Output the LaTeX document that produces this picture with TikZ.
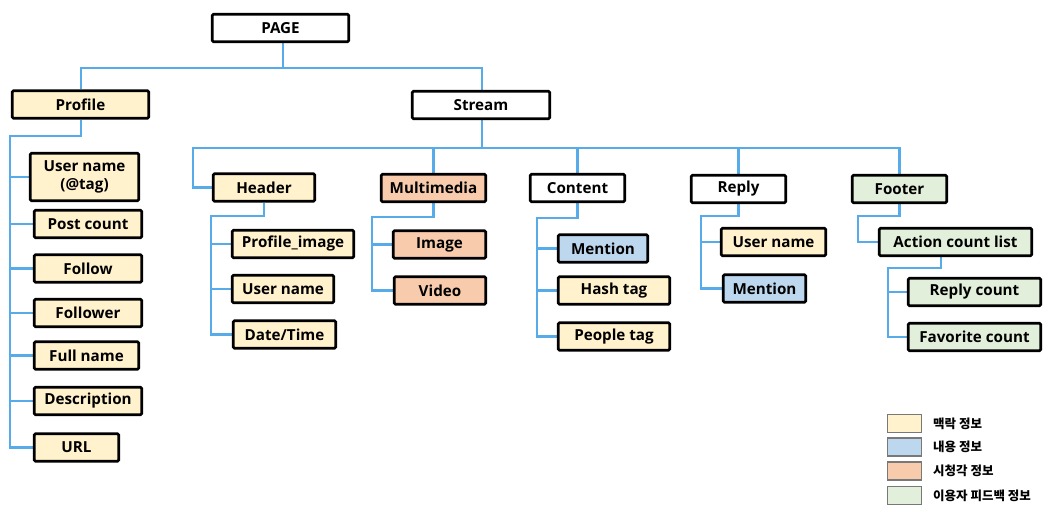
\documentclass[tikz,border=0pt]{standalone}
\usepackage{fontspec}
\usetikzlibrary{backgrounds}
\setmainfont{Open Sans}
\newfontfamily\krfont{Noto Sans CJK KR}
\definecolor{ctx}{HTML}{FFF2CC}
\definecolor{cnt}{HTML}{BDD7EE}
\definecolor{av}{HTML}{F8CBAD}
\definecolor{fb}{HTML}{E2EFDA}
\definecolor{link}{RGB}{86,171,232}
\definecolor{lgray}{RGB}{120,120,120}
\tikzset{
  box/.style={draw=black, line width=2.7pt, rounded corners=1.2pt, inner sep=0pt,
    font=\fontsize{15.2}{17.5}\selectfont\bfseries, align=center, minimum height=27.5pt},
  wbox/.style={box, fill=white},
  cbox/.style={box, fill=ctx},
  nbox/.style={box, fill=cnt},
  abox/.style={box, fill=av},
  fbox/.style={box, fill=fb},
  conn/.style={draw=link, line width=2.3pt},
  legbox/.style={draw=lgray, line width=1.2pt, minimum width=34pt, minimum height=18pt, inner sep=0pt},
  legtxt/.style={anchor=west, font=\krfont\fontsize{12.5}{14}\selectfont\bfseries, inner sep=0pt}
}
\begin{document}
\begin{tikzpicture}[x=1pt,y=-1pt]
\useasboundingbox (0,0) rectangle (1045,504);
% coordinates for connector corners
\coordinate (top) at (283,68);
\coordinate (pl) at (10,136);
\coordinate (sb) at (193,148);
\coordinate (hl) at (211,216);
\coordinate (ml) at (372,217);
\coordinate (cl) at (537,218);
\coordinate (rl) at (701,216);
\coordinate (fl) at (858,216);
\coordinate (al) at (888,268);

% nodes
\node[wbox, minimum width=136.5pt] (page) at (280.5,28) {PAGE};
\node[cbox, minimum width=136.5pt] (profile) at (80.5,104.5) {Profile};
\node[wbox, minimum width=137.5pt] (stream) at (481,105) {Stream};

\node[cbox, minimum width=108.5pt, minimum height=47.5pt] (uname) at (84.5,177) {User name\\(@tag)};
\node[cbox, minimum width=107.5pt] (post) at (88,224) {Post count};
\node[cbox, minimum width=107.5pt] (follow) at (88,268.5) {Follow};
\node[cbox, minimum width=107.5pt] (follower) at (88,313) {Follower};
\node[cbox, minimum width=104.5pt] (fullname) at (86.5,355.5) {Full name};
\node[cbox, minimum width=107.5pt] (desc) at (88,401) {Description};
\node[cbox, minimum width=84.5pt] (url) at (76.5,447.5) {URL};

\node[cbox, minimum width=101.5pt] (header) at (264,187.5) {Header};
\node[cbox, minimum width=121.5pt] (pimg) at (293,244) {Profile\_image};
\node[cbox, minimum width=101.5pt] (huser) at (283,289) {User name};
\node[cbox, minimum width=102.5pt] (date) at (284.5,334.5) {Date/Time};

\node[abox, minimum width=104.5pt] (mm) at (433.5,188) {Multimedia};
\node[abox, minimum width=92.5pt] (image) at (439.5,244.5) {Image};
\node[abox, minimum width=91.5pt] (video) at (440,290.5) {Video};

\node[wbox, minimum width=94.5pt] (content) at (577.5,188) {Content};
\node[nbox, minimum width=89.5pt] (cmention) at (603,248.5) {Mention};
\node[cbox, minimum width=111.5pt] (hash) at (614,290.5) {Hash tag};
\node[cbox, minimum width=111.5pt] (people) at (614,336.5) {People tag};

\node[wbox, minimum width=94.5pt] (reply) at (738.5,189) {Reply};
\node[cbox, minimum width=104.5pt] (ruser) at (773.5,242) {User name};
\node[nbox, minimum width=82.5pt] (rmention) at (764.5,288.5) {Mention};

\node[fbox, minimum width=94.5pt] (footer) at (899.5,189) {Footer};
\node[fbox, minimum width=152.5pt] (action) at (955.5,242) {Action count list};
\node[fbox, minimum width=132.5pt] (rcount) at (974.5,292) {Reply count};
\node[fbox, minimum width=132.5pt] (fav) at (974.5,337) {Favorite count};

% connectors
\begin{scope}[on background layer]
\draw[conn] (page.south -| top) -- (top);
\draw[conn] (profile.north -| 81,0) |- (top) -| (stream.north -| 482,0);
\draw[conn] (profile.south -| 81,0) |- (pl) -- (pl |- url.west) -- (url.west);
\foreach \c in {uname,post,follow,follower,fullname,desc}
  \draw[conn] (pl |- \c.west) -- (\c.west);

\draw[conn] (stream.south -| 482,0) -- (sb -| 482,0);
\draw[conn] (header.west) -| (sb) -- (sb -| footer.north) -- (footer.north);
\draw[conn] (mm.north) -- (mm.north |- sb);
\draw[conn] (content.north) -- (content.north |- sb);
\draw[conn] (reply.north) -- (reply.north |- sb);

\draw[conn] (header.south) |- (hl) -- (hl |- date.west) -- (date.west);
\draw[conn] (hl |- pimg.west) -- (pimg.west);
\draw[conn] (hl |- huser.west) -- (huser.west);

\draw[conn] (mm.south) |- (ml) -- (ml |- video.west) -- (video.west);
\draw[conn] (ml |- image.west) -- (image.west);

\draw[conn] (content.south) |- (cl) -- (cl |- people.west) -- (people.west);
\draw[conn] (cl |- cmention.west) -- (cmention.west);
\draw[conn] (cl |- hash.west) -- (hash.west);

\draw[conn] (reply.south) |- (rl) -- (rl |- rmention.west) -- (rmention.west);
\draw[conn] (rl |- ruser.west) -- (ruser.west);

\draw[conn] (footer.south) |- (fl) -- (fl |- action.west) -- (action.west);

\draw[conn] (action.south -| 941,0) |- (al) -- (al |- fav.west) -- (fav.west);
\draw[conn] (al |- rcount.west) -- (rcount.west);
\end{scope}

% legend
\node[legbox, fill=ctx] (l1) at (904.5,423.5) {};
\node[legbox, fill=cnt] (l2) at (904.5,447) {};
\node[legbox, fill=av] (l3) at (904.5,471) {};
\node[legbox, fill=fb] (l4) at (904.5,495.5) {};
\node[legtxt] (t1) at (933,423.5) {맥락 정보};
\node[legtxt] (t2) at (933,447) {내용 정보};
\node[legtxt] (t3) at (933,471) {시청각 정보};
\node[legtxt] (t4) at (933,495.5) {이용자 피드백 정보};
\end{tikzpicture}
\end{document}
